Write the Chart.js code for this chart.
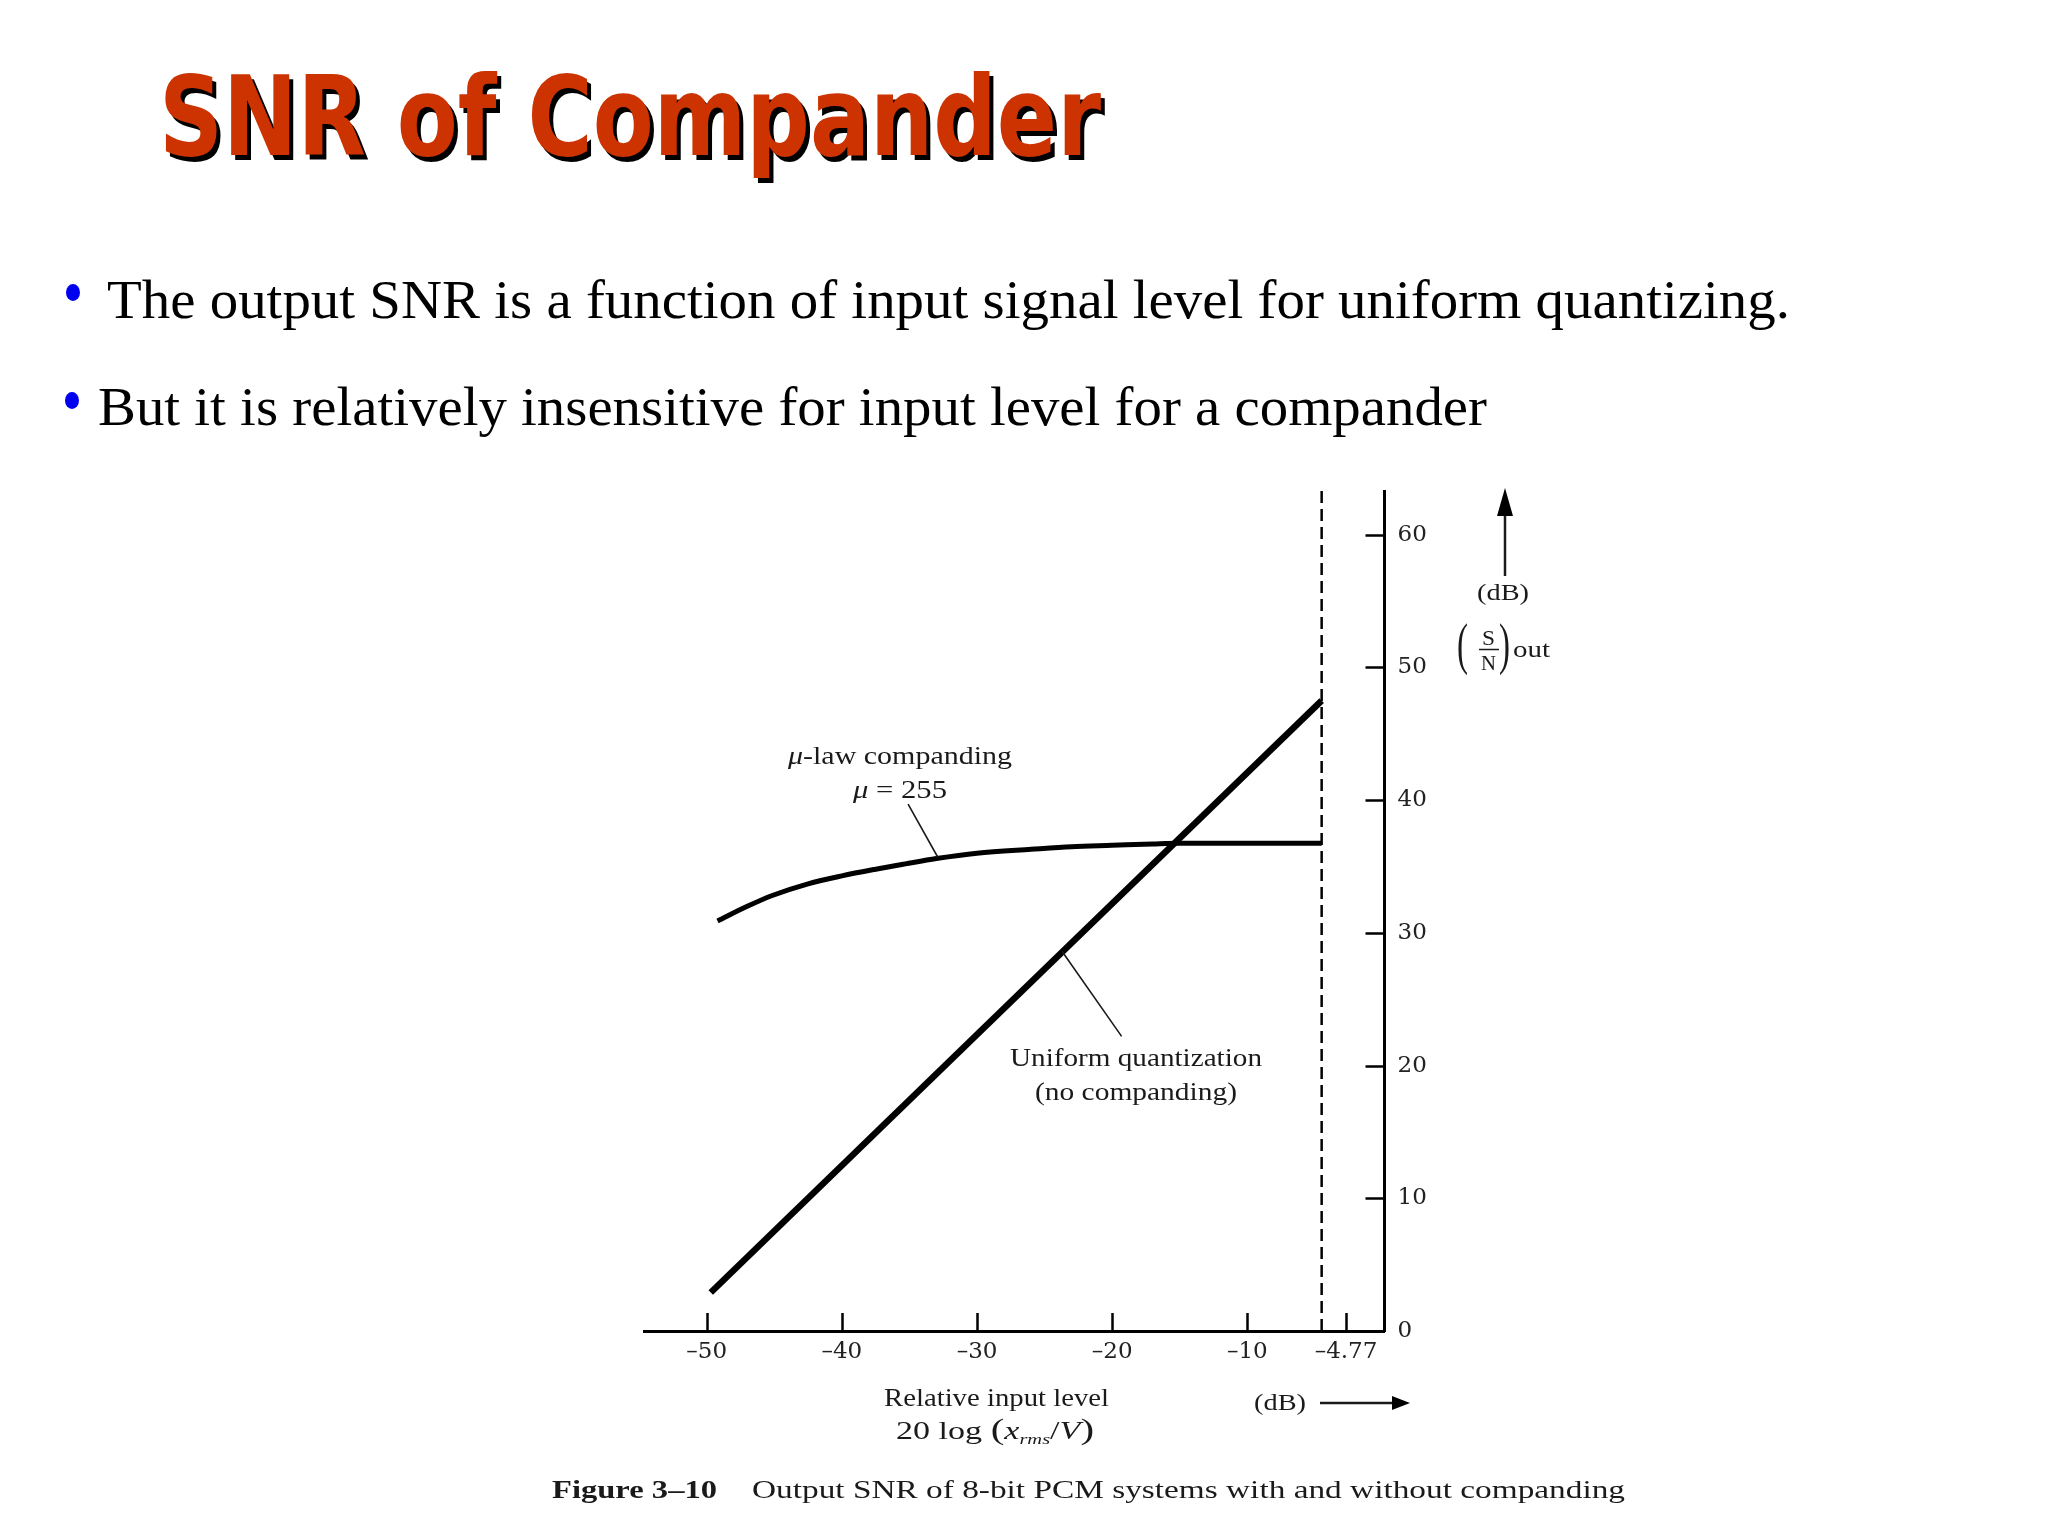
<!DOCTYPE html>
<html>
<head>
<meta charset="utf-8">
<script src="https://cdn.jsdelivr.net/npm/chart.js@4.4.1/dist/chart.umd.min.js"></script>
<style>
html,body{margin:0;padding:0;background:#fff;width:2048px;height:1536px;overflow:hidden;}
.txt{position:absolute;white-space:nowrap;line-height:1;transform-origin:0 0;}
#title{left:159px;top:61px;font-family:'DejaVu Sans';font-weight:bold;font-size:111px;color:#CC3300;text-shadow:5px 5px 0 #000;}
.bl{font-family:'Liberation Serif';font-size:55px;color:#000;}
.dot{position:absolute;width:14px;height:17px;border-radius:50%;background:#0000F0;}
canvas{position:absolute;left:0;top:0;}
</style>
</head>
<body>
<div id="title" class="txt" data-w="942">SNR of Compander</div>
<div class="dot" style="left:66px;top:284px;"></div>
<div id="b1" class="txt bl" style="left:107px;top:272px;" data-w="1683">The output SNR is a function of input signal level for uniform quantizing.</div>
<div class="dot" style="left:65px;top:392px;"></div>
<div id="b2" class="txt bl" style="left:98px;top:379px;" data-w="1389">But it is relatively insensitive for input level for a compander</div>
<canvas id="c" width="2048" height="1536"></canvas>
<script>
// ---- data ----
const xTickValues = [-50, -40, -30, -20, -10, -2.7];
const xTickLabels = ['–50', '–40', '–30', '–20', '–10', '–4.77'];
const yTickValues = [0, 10, 20, 30, 40, 50, 60];
const yTickLabels = ['0', '10', '20', '30', '40', '50', '60'];

const uniformX = [-49.7, -4.5];
const uniformY = [2.9, 47.5];

const muLawX = [-49.2, -47.0, -45.2, -42.5, -40.0, -37.5, -35.3, -33.0, -30.0, -26.0, -23.0, -20.0, -17.0, -15.0, -4.5];
const muLawY = [30.9, 32.0, 32.8, 33.7, 34.3, 34.8, 35.2, 35.6, 36.0, 36.3, 36.5, 36.6, 36.7, 36.75, 36.75];

const limitX = [-4.5, -4.5];
const limitY = [0, 63.3];

const xMin = -54.64, xMax = 0.15, yMin = 0, yMax = 63.3;

// fit DOM text widths
document.querySelectorAll('[data-w]').forEach(el => {
  const w = el.getBoundingClientRect().width;
  el.style.transform = 'scaleX(' + (parseFloat(el.dataset.w) / w) + ')';
});

function pts(xs, ys) { return xs.map((x, i) => ({ x: x, y: ys[i] })); }

const SERIF = "'Liberation Serif'";
const INK = '#1a1a1a';

function drawSegs(ctx, segs, x, y, w) {
  let nat = 0;
  segs.forEach(s => { ctx.font = s.f; s.w = ctx.measureText(s.t).width; nat += s.w; });
  const sx = w ? w / nat : 1;
  ctx.save();
  ctx.translate(x, y);
  ctx.scale(sx, 1);
  ctx.textBaseline = 'alphabetic';
  ctx.textAlign = 'left';
  ctx.fillStyle = INK;
  let cx = 0;
  segs.forEach(s => { ctx.font = s.f; ctx.fillText(s.t, cx, s.dy || 0); cx += s.w; });
  ctx.restore();
}

const innerTicks = {
  id: 'innerTicks',
  afterDatasetsDraw(chart) {
    const { ctx, chartArea: a, scales: { x, y } } = chart;
    ctx.save();
    ctx.strokeStyle = '#000';
    ctx.lineWidth = 2.5;
    ctx.beginPath();
    xTickValues.forEach(v => {
      const px = Math.round(x.getPixelForValue(v)) + 0.5;
      ctx.moveTo(px, a.bottom); ctx.lineTo(px, a.bottom - 18);
    });
    yTickValues.forEach(v => {
      if (v === 0) return;
      const py = Math.round(y.getPixelForValue(v)) + 0.5;
      ctx.moveTo(a.right, py); ctx.lineTo(a.right - 19, py);
    });
    ctx.stroke();
    ctx.restore();
  }
};

const annotations = {
  id: 'annotations',
  afterDraw(chart) {
    const { ctx, scales: { x, y } } = chart;
    const f = (s, st) => (st || '') + ' ' + s + 'px ' + SERIF;
    // leader lines (data coordinates)
    ctx.save();
    ctx.strokeStyle = INK;
    ctx.lineWidth = 1.6;
    ctx.beginPath();
    ctx.moveTo(x.getPixelForValue(-35.1), y.getPixelForValue(39.7));
    ctx.lineTo(x.getPixelForValue(-32.9), y.getPixelForValue(35.7));
    ctx.moveTo(x.getPixelForValue(-23.7), y.getPixelForValue(28.6));
    ctx.lineTo(x.getPixelForValue(-19.3), y.getPixelForValue(22.2));
    ctx.stroke();
    ctx.restore();

    drawSegs(ctx, [{ t: 'μ', f: f(25, 'italic') }, { t: '-law companding', f: f(25) }], 788, 764, 224);
    drawSegs(ctx, [{ t: 'μ', f: f(25, 'italic') }, { t: ' = 255', f: f(25) }], 853, 798, 94);
    drawSegs(ctx, [{ t: 'Uniform quantization', f: f(26) }], 1010, 1066, 252);
    drawSegs(ctx, [{ t: '(no companding)', f: f(26) }], 1035, 1100, 202);

    // y axis unit
    drawSegs(ctx, [{ t: '(dB)', f: f(24) }], 1477, 600, 52);
    drawSegs(ctx, [{ t: '(', f: f(56) }], 1457, 663, 11);
    drawSegs(ctx, [{ t: ')', f: f(56) }], 1499, 663, 11);
    drawSegs(ctx, [{ t: 'S', f: f(22) }], 1482, 645, 13);
    drawSegs(ctx, [{ t: 'N', f: f(22) }], 1481, 670, 15);
    drawSegs(ctx, [{ t: 'out', f: f(24) }], 1513, 657, 37);
    ctx.save();
    ctx.strokeStyle = INK; ctx.fillStyle = '#000';
    ctx.lineWidth = 1.5;
    ctx.beginPath(); ctx.moveTo(1479, 649.5); ctx.lineTo(1499, 649.5); ctx.stroke();
    ctx.lineWidth = 2.5;
    ctx.beginPath(); ctx.moveTo(1505, 576); ctx.lineTo(1505, 510); ctx.stroke();
    ctx.beginPath(); ctx.moveTo(1505, 488); ctx.lineTo(1513, 516); ctx.lineTo(1497, 516); ctx.closePath(); ctx.fill();
    // x axis unit arrow
    ctx.beginPath(); ctx.moveTo(1320, 1403); ctx.lineTo(1398, 1403); ctx.stroke();
    ctx.beginPath(); ctx.moveTo(1410, 1403); ctx.lineTo(1392, 1396); ctx.lineTo(1392, 1410); ctx.closePath(); ctx.fill();
    ctx.restore();
    drawSegs(ctx, [{ t: '(dB)', f: f(24) }], 1254, 1410, 52);

    drawSegs(ctx, [{ t: 'Relative input level', f: f(25) }], 884, 1406, 225);
    drawSegs(ctx, [
      { t: '20 log ', f: f(25) }, { t: '(', f: f(30) }, { t: 'x', f: f(25, 'italic') },
      { t: 'rms', f: f(15, 'italic'), dy: 5 }, { t: '/', f: f(25) }, { t: 'V', f: f(25, 'italic') }, { t: ')', f: f(30) }
    ], 896, 1439, 198);

    drawSegs(ctx, [{ t: 'Figure 3–10', f: f(26, 'bold') }], 552, 1498, 165);
    drawSegs(ctx, [{ t: 'Output SNR of 8-bit PCM systems with and without companding', f: f(26) }], 752, 1498, 873);
  }
};

new Chart(document.getElementById('c'), {
  type: 'scatter',
  data: {
    datasets: [
      { label: 'limit', data: pts(limitX, limitY), showLine: true, borderColor: '#000', borderWidth: 2.5, borderDash: [12, 6], pointRadius: 0 },
      { label: 'Uniform quantization (no companding)', data: pts(uniformX, uniformY), showLine: true, borderColor: '#000', borderWidth: 6.5, pointRadius: 0 },
      { label: 'μ-law companding μ = 255', data: pts(muLawX, muLawY), showLine: true, borderColor: '#000', borderWidth: 5, pointRadius: 0, cubicInterpolationMode: 'monotone' }
    ]
  },
  options: {
    responsive: false,
    animation: false,
    devicePixelRatio: 1,
    layout: { padding: { left: 644, top: 491, right: 583.5, bottom: 155 } },
    plugins: { legend: { display: false }, tooltip: { enabled: false } },
    scales: {
      x: {
        type: 'linear', position: 'bottom', min: xMin, max: xMax,
        afterFit(s) { s.height = 50; },
        afterBuildTicks(s) { s.ticks = xTickValues.map(v => ({ value: v })); },
        ticks: { callback: (v, i) => xTickLabels[i], font: { family: 'DejaVu Serif', size: 23 }, color: '#222', padding: 7, maxRotation: 0, autoSkip: false },
        grid: { display: true, drawOnChartArea: false, drawTicks: false },
        border: { display: true, color: '#000', width: 3 }
      },
      y: {
        type: 'linear', position: 'right', min: yMin, max: yMax,
        afterFit(s) { s.width = 80; },
        afterBuildTicks(s) { s.ticks = yTickValues.map(v => ({ value: v })); },
        ticks: { callback: (v, i) => yTickLabels[i], font: { family: 'DejaVu Serif', size: 23 }, color: '#222', padding: 13, autoSkip: false },
        grid: { display: true, drawOnChartArea: false, drawTicks: false },
        border: { display: true, color: '#000', width: 3 }
      }
    }
  },
  plugins: [innerTicks, annotations]
});
</script>
</body>
</html>
